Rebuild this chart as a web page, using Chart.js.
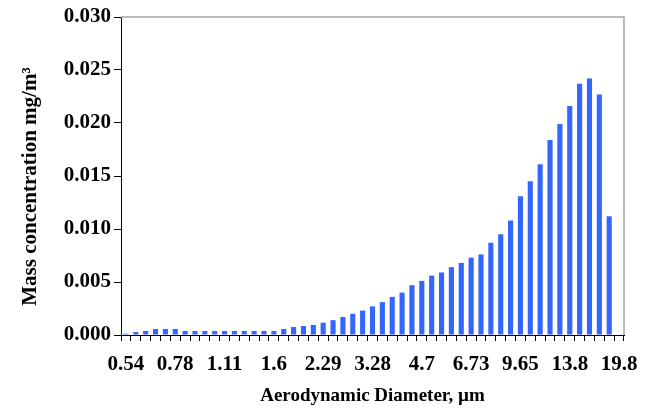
<!DOCTYPE html>
<html>
<head>
<meta charset="utf-8">
<script src="https://cdn.jsdelivr.net/npm/chart.js@4/dist/chart.umd.min.js"></script>
<style>
html,body{margin:0;padding:0;background:#fff;}
#c{display:block;}
</style>
</head>
<body>
<canvas id="c" width="652" height="411"></canvas>
<script>
const diameters = ["0.54","0.58","0.62","0.67","0.72","0.78","0.83","0.90","0.96","1.03",
  "1.11","1.19","1.28","1.38","1.48","1.6","1.71","1.84","1.98","2.13",
  "2.29","2.46","2.64","2.84","3.05","3.28","3.52","3.79","4.07","4.37",
  "4.7","5.05","5.43","5.83","6.26","6.73","7.23","7.77","8.35","8.98",
  "9.65","10.37","11.14","11.97","12.86","13.8","14.86","15.96","17.15","18.43","19.8"];
const massConcentration = [0.00012,0.00028,0.00038,0.00057,0.00057,0.00057,0.00038,0.00038,0.00038,0.00038,
  0.00038,0.00038,0.00038,0.00038,0.00038,0.00038,0.00057,0.00075,0.00085,0.00095,
  0.00116,0.0014,0.0017,0.0020,0.0023,0.0027,0.0031,0.0036,0.0040,0.0047,
  0.0051,0.0056,0.0059,0.0064,0.0068,0.0073,0.0076,0.0087,0.0095,0.0108,
  0.0131,0.0145,0.0161,0.0184,0.0199,0.0216,0.0237,0.0242,0.0227,0.0112,0];
const yTicks = [0,0.005,0.010,0.015,0.020,0.025,0.030];
const labelEvery = 5;

const fontFam = "'Liberation Serif','Times New Roman',serif";
const frame = {
  id:'frame',
  afterDatasetsDraw(chart){
    const a = chart.chartArea, ctx = chart.ctx;
    ctx.save();
    ctx.strokeStyle = '#a6a6a6';
    ctx.lineWidth = 1.5;
    ctx.beginPath();
    ctx.moveTo(a.left, a.top);
    ctx.lineTo(a.right, a.top);
    ctx.lineTo(a.right, a.bottom);
    ctx.stroke();
    ctx.restore();
  }
};

new Chart(document.getElementById('c'), {
  type:'bar',
  data:{
    labels: diameters,
    datasets:[{
      data: massConcentration,
      backgroundColor:'#3366ff',
      borderWidth:0,
      categoryPercentage:1,
      barPercentage:0.52
    }]
  },
  options:{
    responsive:false,
    animation:false,
    devicePixelRatio:1,
    layout:{padding:{left:0,right:28,top:17,bottom:0}},
    plugins:{legend:{display:false},tooltip:{enabled:false}},
    scales:{
      x:{
        offset:true,
        grid:{display:true,drawOnChartArea:false,offset:true,tickLength:6,color:'#000',lineWidth:1},
        border:{display:true,color:'#000',width:1},
        ticks:{
          autoSkip:false,maxRotation:0,minRotation:0,padding:11,color:'#000',
          font:{family:fontFam,size:21,weight:'bold'},
          callback:function(v,i){ return i % labelEvery === 0 ? diameters[i] : ''; }
        },
        title:{display:true,text:'Aerodynamic Diameter, µm',color:'#000',
          font:{family:fontFam,size:19,weight:'bold'},padding:{top:0,bottom:4}},
        afterFit(s){ s.height = 76; }
      },
      y:{
        min:0,max:0.03,
        afterBuildTicks(s){ s.ticks = yTicks.map(v=>({value:v})); },
        grid:{display:true,drawOnChartArea:false,tickLength:7,color:'#000',lineWidth:1},
        border:{display:true,color:'#000',width:1},
        ticks:{padding:3,color:'#000',font:{family:fontFam,size:21,weight:'bold'},
          callback:function(v){ return Number(v).toFixed(3); }},
        title:{display:true,text:'Mass concentration mg/m³\u00a0\u00a0\u00a0\u00a0',color:'#000',
          font:{family:fontFam,size:21,weight:'bold'},padding:{top:18,bottom:0}},
        afterFit(s){ s.width = 121; }
      }
    }
  },
  plugins:[frame]
});
</script>
</body>
</html>
